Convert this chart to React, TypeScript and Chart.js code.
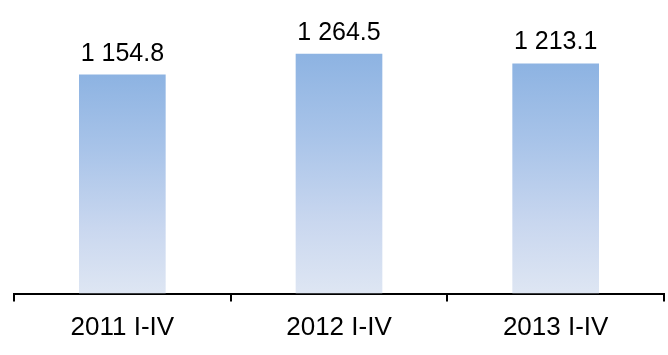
import React, { useEffect, useRef } from "react";
import { Chart, registerables } from "chart.js";

Chart.register(...registerables);

const categories: string[] = ["2011 I-IV", "2012 I-IV", "2013 I-IV"];
const values: number[] = [1154.8, 1264.5, 1213.1];
const valueLabels: string[] = ["1 154.8", "1 264.5", "1 213.1"];

const FONT = "'Liberation Sans', Arial, sans-serif";

const valueLabelPlugin = {
  id: "valueLabels",
  afterDatasetsDraw(chart: any) {
    const ctx = chart.ctx;
    const meta = chart.getDatasetMeta(0);
    ctx.save();
    ctx.fillStyle = "#000";
    ctx.font = `25px ${FONT}`;
    ctx.textAlign = "center";
    ctx.textBaseline = "alphabetic";
    meta.data.forEach((bar: any, i: number) => {
      ctx.fillText(valueLabels[i], bar.x, bar.y - 14);
    });
    ctx.restore();
  },
};

export default function App() {
  const ref = useRef<HTMLCanvasElement | null>(null);
  useEffect(() => {
    if (!ref.current) return;
    const chart = new Chart(ref.current, {
      type: "bar",
      data: {
        labels: categories,
        datasets: [
          {
            data: values,
            backgroundColor: (c: any) => {
              const ch = c.chart;
              const ys = ch.scales && ch.scales.y;
              if (!ys || c.dataIndex === undefined) return "#8EB4E3";
              const v = values[c.dataIndex];
              const top = ys.getPixelForValue(v);
              const bottom = ys.getPixelForValue(0);
              if (!isFinite(top) || !isFinite(bottom) || top === bottom) return "#8EB4E3";
              const g = ch.ctx.createLinearGradient(0, top, 0, bottom);
              g.addColorStop(0, "#8DB3E2");
              g.addColorStop(0.35, "#A9C4E9");
              g.addColorStop(0.7, "#C9D7EF");
              g.addColorStop(1, "#DEE6F3");
              return g;
            },
            borderWidth: 0,
            barPercentage: 0.4,
            categoryPercentage: 1,
          },
        ],
      },
      options: {
        animation: false,
        responsive: true,
        maintainAspectRatio: false,
        layout: { padding: { left: 14, right: 4, top: 28, bottom: 0 } },
        plugins: { legend: { display: false }, tooltip: { enabled: false } },
        scales: {
          x: {
            offset: true,
            grid: {
              display: true,
              drawOnChartArea: false,
              drawTicks: true,
              tickLength: 8,
              offset: true,
              color: "#000",
              lineWidth: 2,
            },
            border: { display: true, color: "#000", width: 2 },
            ticks: {
              color: "#000",
              font: { family: FONT, size: 26, lineHeight: 0.9 },
              padding: 15,
              maxRotation: 0,
            },
          },
          y: { display: false, min: 0, max: 1400 },
        },
      },
      plugins: [valueLabelPlugin],
    });
    return () => chart.destroy();
  }, []);
  return (
    <div style={{ position: "fixed", left: 0, top: 0, width: 668, height: 355, background: "#fff" }}>
      <canvas ref={ref} />
    </div>
  );
}
